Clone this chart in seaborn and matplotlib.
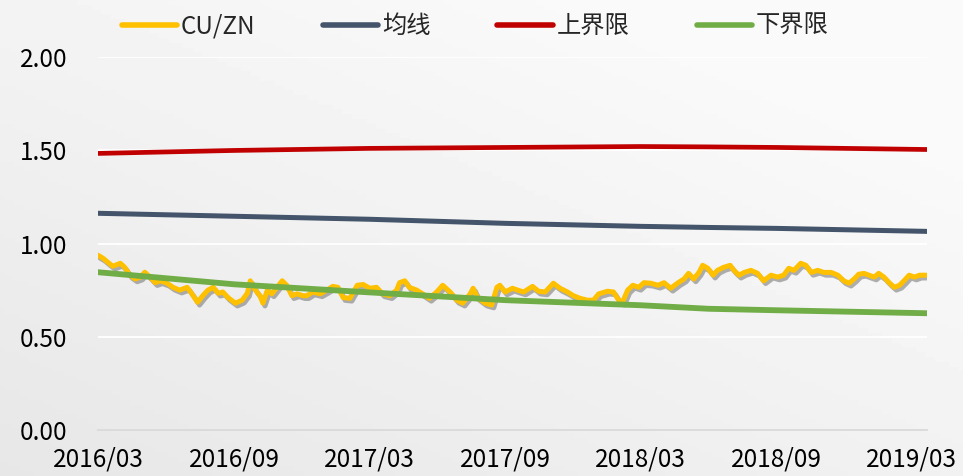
import numpy as np
import pandas as pd
import matplotlib
matplotlib.use("Agg")
import matplotlib.pyplot as plt
import matplotlib.dates as mdates
import matplotlib.patheffects as pe
import seaborn as sns

# ---------------- data ----------------
ratio_dates = [
    "2016-03-01", "2016-03-08", "2016-03-14", "2016-03-21", "2016-03-31", "2016-04-06", "2016-04-13",
    "2016-04-20", "2016-04-27", "2016-05-03", "2016-05-10", "2016-05-17", "2016-05-24", "2016-06-02",
    "2016-06-10", "2016-06-19", "2016-06-29", "2016-07-05", "2016-07-13", "2016-07-20", "2016-07-27",
    "2016-08-03", "2016-08-10", "2016-08-16", "2016-08-23", "2016-09-02", "2016-09-11", "2016-09-18",
    "2016-09-22", "2016-09-29", "2016-10-05", "2016-10-09", "2016-10-15", "2016-10-21", "2016-10-28",
    "2016-11-04", "2016-11-10", "2016-11-17", "2016-11-24", "2016-12-02", "2016-12-07", "2016-12-15",
    "2016-12-25", "2017-01-03", "2017-01-11", "2017-01-18", "2017-01-25", "2017-02-03", "2017-02-13",
    "2017-02-21", "2017-03-02", "2017-03-11", "2017-03-19", "2017-03-29", "2017-04-07", "2017-04-11",
    "2017-04-18", "2017-04-24", "2017-05-04", "2017-05-12", "2017-05-21", "2017-05-31", "2017-06-08",
    "2017-06-18", "2017-06-27", "2017-07-05", "2017-07-15", "2017-07-19", "2017-07-25", "2017-08-04",
    "2017-08-13", "2017-08-20", "2017-08-24", "2017-08-31", "2017-09-10", "2017-09-17", "2017-09-25",
    "2017-10-07", "2017-10-15", "2017-10-24", "2017-11-04", "2017-11-13", "2017-11-23", "2017-12-01",
    "2017-12-10", "2017-12-20", "2017-12-28", "2018-01-04", "2018-01-16", "2018-01-24", "2018-01-31",
    "2018-02-05", "2018-02-12", "2018-02-19", "2018-02-27", "2018-03-06", "2018-03-15", "2018-03-25",
    "2018-04-02", "2018-04-11", "2018-04-21", "2018-04-29", "2018-05-05", "2018-05-12", "2018-05-19",
    "2018-05-24", "2018-05-31", "2018-06-07", "2018-06-13", "2018-06-21", "2018-06-30", "2018-07-05",
    "2018-07-12", "2018-07-19", "2018-07-28", "2018-08-06", "2018-08-14", "2018-08-24", "2018-09-02",
    "2018-09-10", "2018-09-17", "2018-09-24", "2018-10-03", "2018-10-10", "2018-10-17", "2018-10-26",
    "2018-11-03", "2018-11-13", "2018-11-22", "2018-11-30", "2018-12-07", "2018-12-14", "2018-12-20",
    "2018-12-27", "2019-01-03", "2019-01-10", "2019-01-16", "2019-01-23", "2019-01-30", "2019-02-06",
    "2019-02-13", "2019-02-19", "2019-02-26", "2019-03-05", "2019-03-12", "2019-03-22",
]
cu_zn = [
    0.937, 0.92, 0.90, 0.878, 0.894, 0.872, 0.83,
    0.81, 0.82, 0.846, 0.82, 0.79, 0.80, 0.787,
    0.765, 0.75, 0.765, 0.733, 0.685, 0.72, 0.75,
    0.765, 0.733, 0.74, 0.71, 0.68, 0.696, 0.733,
    0.80, 0.75, 0.72, 0.68, 0.75, 0.73, 0.765,
    0.80, 0.776, 0.72, 0.73, 0.72, 0.72, 0.74,
    0.73, 0.75, 0.77, 0.765, 0.71, 0.706, 0.776,
    0.78, 0.76, 0.765, 0.73, 0.72, 0.75, 0.79,
    0.80, 0.765, 0.75, 0.73, 0.706, 0.74, 0.776,
    0.74, 0.696, 0.68, 0.73, 0.76, 0.71, 0.68,
    0.67, 0.765, 0.776, 0.74, 0.76, 0.75, 0.74,
    0.77, 0.744, 0.74, 0.787, 0.76, 0.74, 0.72,
    0.706, 0.696, 0.696, 0.73, 0.744, 0.74, 0.696,
    0.685, 0.75, 0.776, 0.765, 0.79, 0.787, 0.776,
    0.79, 0.76, 0.79, 0.81, 0.84, 0.81, 0.845,
    0.883, 0.867, 0.83, 0.856, 0.872, 0.883, 0.856,
    0.83, 0.845, 0.856, 0.84, 0.80, 0.83, 0.82,
    0.83, 0.867, 0.856, 0.894, 0.883, 0.845, 0.856,
    0.845, 0.845, 0.83, 0.80, 0.787, 0.81, 0.835,
    0.84, 0.83, 0.82, 0.84, 0.82, 0.79, 0.765,
    0.776, 0.80, 0.83, 0.82, 0.83, 0.83,
]

band_dates = ["2016-03-01", "2016-09-01", "2017-03-01", "2017-09-01",
              "2018-03-01", "2018-06-01", "2018-09-01", "2019-03-22"]
mean_line = [1.162, 1.146, 1.13, 1.108, 1.092, 1.086, 1.081, 1.065]
upper_line = [1.483, 1.499, 1.51, 1.515, 1.52, 1.518, 1.515, 1.504]
lower_line = [0.846, 0.781, 0.738, 0.696, 0.669, 0.650, 0.642, 0.626]

series_names = ["CU/ZN", "均线", "上界限", "下界限"]
series_colors = ["#FFC000", "#44546A", "#C00000", "#70AD47"]

tick_dates = ["2016-03-01", "2016-09-01", "2017-03-01", "2017-09-01",
              "2018-03-01", "2018-09-01", "2019-03-01"]
y_ticks = [0.0, 0.5, 1.0, 1.5, 2.0]

# ---------------- style ----------------
sns.set_style("white")
plt.rcParams["font.family"] = ["Noto Sans CJK SC", "DejaVu Sans"]
FS = 17.5

fig = plt.figure(figsize=(9.63, 4.76), dpi=100)

# background gradient
bg = fig.add_axes([0, 0, 1, 1], zorder=-10)
gx, gy = np.meshgrid(np.linspace(0, 1, 200), np.linspace(0, 1, 100))
g = np.clip(0.55 * gx + 0.65 * gy, 0, 1)
bg.imshow(0.905 + 0.075 * g, cmap="gray", vmin=0, vmax=1, aspect="auto",
          origin="lower", extent=[0, 1, 0, 1])
bg.axis("off")

ax = fig.add_axes([98 / 963, 46 / 476, 829 / 963, 373 / 476])
ax.set_facecolor("none")

df_ratio = pd.DataFrame({"date": pd.to_datetime(ratio_dates), "value": cu_zn})
df_band = pd.DataFrame({"date": pd.to_datetime(band_dates),
                        "mean": mean_line, "upper": upper_line, "lower": lower_line})

shadow = [pe.SimpleLineShadow(offset=(1.5, -2), shadow_color="#555555", alpha=0.45),
          pe.Normal()]

sns.lineplot(data=df_ratio, x="date", y="value", ax=ax, color=series_colors[0],
             lw=3.6, label=series_names[0], path_effects=shadow,
             solid_capstyle="round", solid_joinstyle="round", zorder=5)
sns.lineplot(data=df_band, x="date", y="mean", ax=ax, color=series_colors[1],
             lw=3.6, label=series_names[1], solid_capstyle="round", zorder=4)
sns.lineplot(data=df_band, x="date", y="upper", ax=ax, color=series_colors[2],
             lw=3.4, label=series_names[2], solid_capstyle="round", zorder=4)
sns.lineplot(data=df_band, x="date", y="lower", ax=ax, color=series_colors[3],
             lw=4.2, label=series_names[3], solid_capstyle="round", zorder=6)

ax.set_ylim(0, 2.0)
ax.set_xlim(pd.Timestamp(band_dates[0]), pd.Timestamp(band_dates[-1]))
ax.set_yticks(y_ticks)
ax.yaxis.set_major_formatter(matplotlib.ticker.FormatStrFormatter("%.2f"))
ax.set_xticks(pd.to_datetime(tick_dates))
ax.xaxis.set_major_formatter(mdates.DateFormatter("%Y/%m"))
ax.set_xlabel("")
ax.set_ylabel("")

ax.grid(axis="y", color="white", lw=1.3)
ax.grid(axis="x", visible=False)
for s in ["top", "right", "left"]:
    ax.spines[s].set_visible(False)
ax.spines["bottom"].set_color("#d9d9d9")
ax.spines["bottom"].set_linewidth(1.3)
ax.spines["bottom"].set_zorder(3)

ax.tick_params(axis="y", length=0, pad=22, labelsize=FS, labelcolor="black")
ax.tick_params(axis="x", direction="out", length=5, width=1.3, color="#d9d9d9",
               pad=7, labelsize=FS, labelcolor="black")

leg = ax.legend(loc="center", bbox_to_anchor=(0.455, 1.083), ncol=4,
                frameon=False, fontsize=FS, handlelength=2.3, handletextpad=0.15,
                columnspacing=2.75, borderaxespad=0)
for h in leg.get_lines():
    h.set_path_effects([])
    h.set_linewidth(4.0)

fig.savefig("out.png", dpi=100)
